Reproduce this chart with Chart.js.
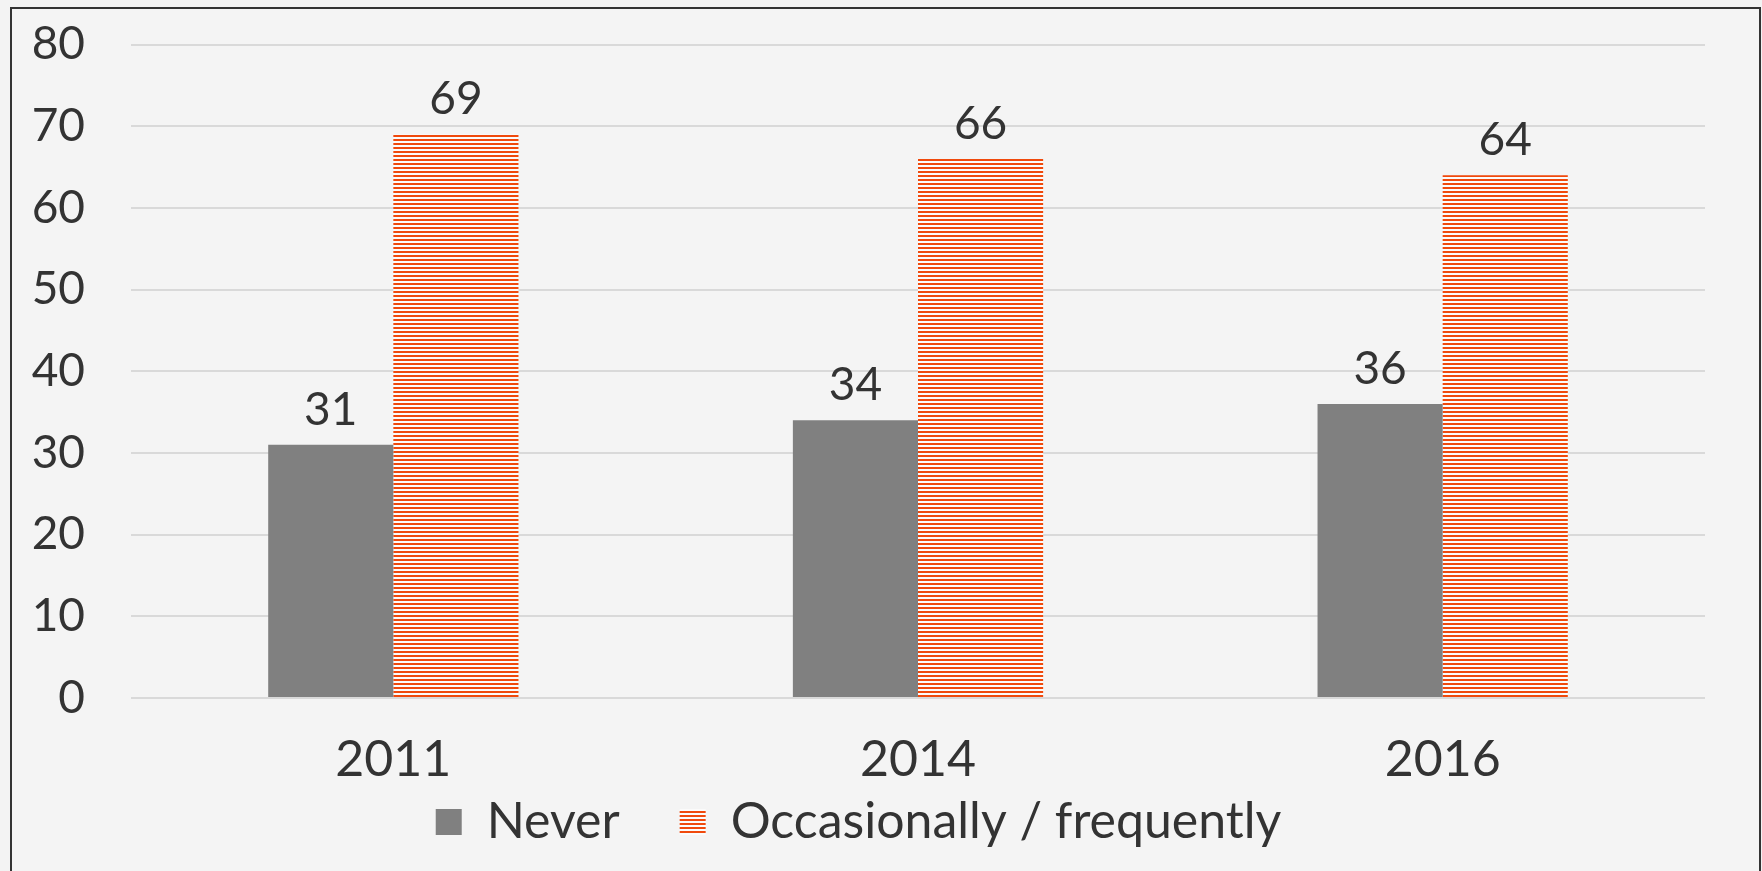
<!DOCTYPE html>
<html>
<head>
<meta charset="utf-8">
<script src="https://cdn.jsdelivr.net/npm/chart.js@4.4.0/dist/chart.umd.min.js"></script>
<style>
  html, body { margin: 0; padding: 0; background: #f3f3f3; overflow: hidden; }
  #frame {
    position: absolute; left: 10px; top: 7px; width: 1747px; height: 880px;
    border: 2px solid #333; background: #f4f4f4;
  }
  #wrap { position: absolute; left: 0; top: -38px; width: 1747px; height: 900px; }
</style>
</head>
<body>
<div id="frame"><div id="wrap"><canvas id="bar-chart"></canvas></div></div>
<script>
const YEARS = ["2011", "2014", "2016"];
const NEVER = [31, 34, 36];
const OCCASIONALLY = [69, 66, 64];
const Y_TICKS = [0, 10, 20, 30, 40, 50, 60, 70, 80];

const FONT = "Lato, 'Noto Sans', sans-serif";
const TEXT = "#333333";
const LEGEND_LIFT = 77;

// horizontal stripes like the reference's orange fill
const makeStripes = () => {
  const c = document.createElement("canvas");
  c.width = 4;
  c.height = 4;
  const ctx = c.getContext("2d");
  ctx.fillStyle = "#fbfbfb";
  ctx.fillRect(0, 0, 4, 4);
  ctx.fillStyle = "#f0490c";
  ctx.fillRect(0, 0, 4, 2);
  return ctx.createPattern(c, "repeat");
};

const valueLabels = {
  id: "valueLabels",
  afterDatasetsDraw(chart) {
    const ctx = chart.ctx;
    ctx.save();
    ctx.font = "46px " + FONT;
    ctx.fillStyle = TEXT;
    ctx.textAlign = "center";
    ctx.textBaseline = "alphabetic";
    chart.data.datasets.forEach((ds, i) => {
      chart.getDatasetMeta(i).data.forEach((bar, j) => {
        ctx.fillText(ds.data[j], bar.x, bar.y - 20);
      });
    });
    ctx.restore();
  },
};

// legend padding is big for the gap between items, which also pads it on top;
// the layout pushes it below the canvas and it is drawn back up here
const legendLift = {
  id: "legendLift",
  afterLayout(chart) {
    if (chart.legend) {
      chart.legend.top -= LEGEND_LIFT;
      chart.legend.bottom -= LEGEND_LIFT;
    }
  },
};

new Chart(document.getElementById("bar-chart"), {
  type: "bar",
  data: {
    labels: YEARS,
    datasets: [
      {
        label: "Never",
        data: NEVER,
        backgroundColor: "#808080",
        borderWidth: 0,
      },
      {
        label: "Occasionally / frequently",
        data: OCCASIONALLY,
        backgroundColor: makeStripes(),
        borderWidth: 0,
      },
    ],
  },
  options: {
    responsive: true,
    maintainAspectRatio: false,
    animation: false,
    datasets: {
      bar: { categoryPercentage: 0.477, barPercentage: 1 },
    },
    layout: { padding: { top: 0, right: 54, bottom: -63, left: 0 } },
    scales: {
      x: {
        grid: { display: false },
        border: { display: false },
        ticks: { color: TEXT, font: { family: FONT, size: 50 }, padding: 24 },
      },
      y: {
        min: 0,
        max: 80,
        afterBuildTicks: (scale) => {
          scale.ticks = Y_TICKS.map((v) => ({ value: v }));
        },
        afterFit: (scale) => {
          scale.width = 119;
        },
        grid: { color: "#d9d9d9", lineWidth: 2, drawTicks: false },
        border: { display: false },
        ticks: { color: TEXT, font: { family: FONT, size: 46 }, padding: 46 },
      },
    },
    plugins: {
      tooltip: { enabled: false },
      legend: {
        position: "bottom",
        labels: {
          color: TEXT,
          boxWidth: 26,
          boxHeight: 26,
          padding: 60,
          font: { family: FONT, size: 50 },
        },
      },
    },
  },
  plugins: [valueLabels, legendLift],
});
</script>
</body>
</html>
